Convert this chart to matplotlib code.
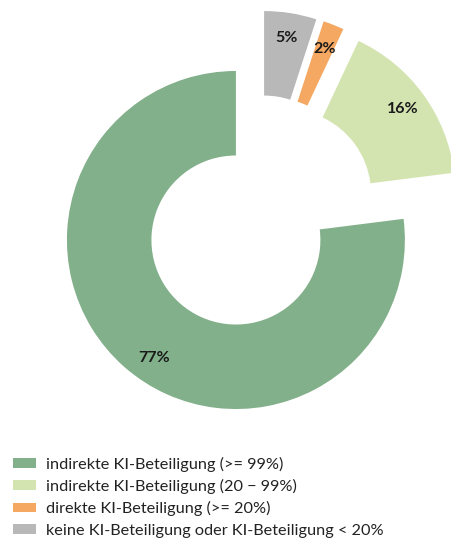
import matplotlib
matplotlib.use("Agg")
import matplotlib.pyplot as plt
import numpy as np

categories = [
    "indirekte KI-Beteiligung (>= 99%)",
    "indirekte KI-Beteiligung (20 \u2212 99%)",
    "direkte KI-Beteiligung (>= 20%)",
    "keine KI-Beteiligung oder KI-Beteiligung < 20%",
]
values = [77, 16, 2, 5]
colors = ["#82B08A", "#D4E4B0", "#F5A862", "#B8B8B8"]

plt.rcParams['font.family'] = ['Lato', 'DejaVu Sans']

fig = plt.figure(figsize=(4.51, 5.39), dpi=100)
ax = fig.add_axes([0, 0, 1, 1])
ax.axis('off')

wedges, texts, autotexts = ax.pie(
    values,
    colors=colors,
    startangle=90,
    counterclock=True,
    explode=[0.204] * len(values),
    radius=1.0,
    wedgeprops=dict(width=0.5, linewidth=0),
    autopct='%.0f%%',
    pctdistance=0.85,
    textprops=dict(fontsize=11.5, fontweight='bold', color='#1a1a1a'),
    frame=False,
)
ax.set_xlim(-1.531, 1.138)
ax.set_ylim(-1.922, 1.267)
ax.set_aspect('auto')

# the large slice's label sits a little further round the ring
w0 = wedges[0]
ang = np.deg2rad((w0.theta1 + w0.theta2) / 2 + 6.5)
cx, cy = w0.center
autotexts[0].set_position((cx + 0.85 * np.cos(ang), cy + 0.85 * np.sin(ang)))

leg = fig.legend(
    wedges, categories,
    loc='upper left',
    bbox_to_anchor=(0.015, 1 - 450 / 539),
    frameon=False,
    fontsize=11.7,
    handlelength=1.4,
    handleheight=0.55,
    handletextpad=0.6,
    labelspacing=0.45,
    borderaxespad=0,
)
for t in leg.get_texts():
    t.set_color('#222222')

fig.savefig("out.png", dpi=100)
